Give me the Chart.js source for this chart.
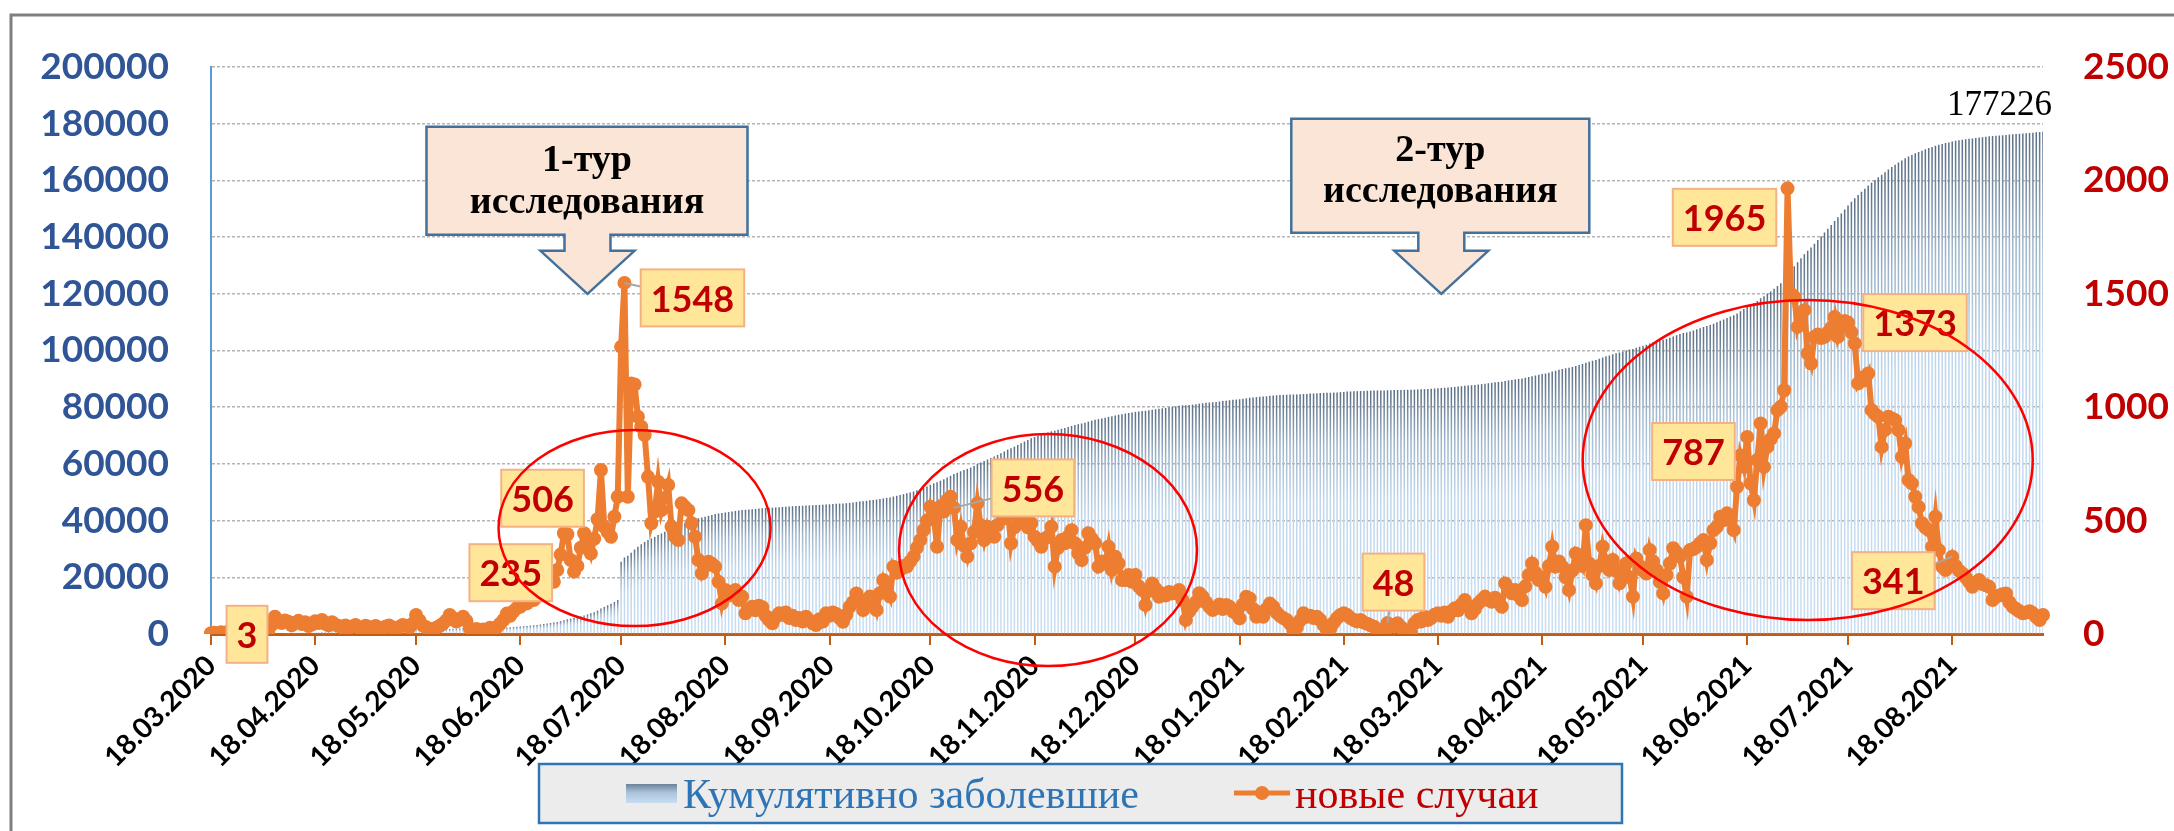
<!DOCTYPE html>
<html>
<head>
<meta charset="utf-8">
<script src="https://cdn.jsdelivr.net/npm/chart.js@4.4.1/dist/chart.umd.min.js"></script>
<style>
  html, body { margin: 0; padding: 0; background: #fff; }
  canvas { display: block; }
</style>
</head>
<body>
<canvas id="chart" width="2174" height="831" style="width:2174px;height:831px"></canvas>
<script>
// daily series, first day 18.03.2020
const firstDay = [2020, 2, 18];

const newCases = [
  3, 5, 2, 8, 4, 10, 6, 12, 7, 15,
  9, 5, 11, 14, 8, 17, 6, 10, 40, 76,
  55, 48, 60, 54, 38, 50, 58, 44, 52, 35,
  42, 56, 48, 62, 45, 38, 52, 41, 35, 30,
  38, 27, 33, 40, 29, 24, 36, 31, 28, 35,
  26, 22, 33, 38, 29, 25, 31, 40, 36, 28,
  45, 84, 60, 38, 30, 22, 12, 28, 35, 45,
  60, 84, 70, 55, 65, 76, 58, 25, 18, 22,
  12, 20, 15, 28, 22, 30, 45, 62, 90, 80,
  100, 115, 120, 150, 135, 160, 150, 165, 200, 235,
  215, 250, 230, 282, 350, 444, 440, 326, 275, 300,
  380, 444, 400, 355, 420, 506, 723, 473, 450, 429,
  517, 605, 1266, 1548, 605, 1105, 1100, 958, 914, 877,
  693, 488, 540, 671, 546, 600, 657, 473, 430, 414,
  576, 560, 546, 488, 429, 326, 267, 300, 319, 310,
  297, 230, 135, 194, 170, 180, 194, 150, 165, 91,
  110, 120, 105, 125, 118, 80, 62, 47, 75, 91,
  85, 95, 70, 80, 62, 70, 55, 76, 60, 47,
  40, 65, 55, 91, 80, 95, 88, 70, 54, 85,
  120, 140, 179, 150, 106, 140, 165, 150, 106, 180,
  238, 200, 165, 297, 270, 282, 300, 297, 320, 341,
  380, 414, 458, 500, 561, 517, 385, 561, 540, 590,
  605, 556, 414, 473, 390, 341, 400, 450, 576, 480,
  414, 473, 440, 429, 480, 532, 510, 546, 400, 470,
  517, 490, 502, 470, 488, 429, 410, 385, 420, 429,
  473, 297, 380, 414, 400, 430, 458, 400, 355, 326,
  380, 444, 420, 400, 297, 320, 311, 385, 282, 341,
  311, 238, 238, 260, 230, 260, 210, 194, 128, 190,
  223, 200, 164, 179, 170, 185, 179, 180, 194, 150,
  62, 100, 120, 140, 180, 165, 140, 120, 106, 115,
  130, 110, 128, 120, 100, 90, 69, 130, 164, 157,
  110, 76, 95, 76, 110, 134, 120, 95, 80, 70,
  62, 45, 18, 30, 60, 91, 76, 80, 70, 76,
  62, 40, 18, 25, 50, 70, 84, 91, 84, 70,
  62, 55, 62, 50, 45, 38, 32, 20, 4, 10,
  48, 40, 33, 47, 30, 18, 10, 4, 47, 62,
  55, 76, 62, 70, 85, 91, 80, 95, 76, 100,
  113, 105, 130, 150, 120, 91, 110, 135, 150, 165,
  150, 142, 160, 140, 120, 223, 200, 180, 194, 170,
  150, 210, 260, 311, 270, 238, 250, 208, 300, 385,
  297, 320, 297, 250, 194, 280, 355, 330, 300, 480,
  311, 260, 223, 300, 385, 320, 282, 326, 280, 223,
  260, 311, 250, 165, 333, 300, 280, 267, 370, 320,
  282, 230, 179, 260, 311, 378, 360, 341, 250, 165,
  370, 375, 385, 400, 414, 326, 400, 458, 473, 517,
  502, 532, 500, 458, 649, 787, 737, 869, 664, 590,
  767, 928, 737, 825, 860, 884, 987, 1002, 1075, 1965,
  1500, 1486, 1354, 1400, 1428, 1237, 1193, 1310, 1320, 1305,
  1310, 1330, 1350, 1398, 1310, 1354, 1380, 1373, 1330, 1281,
  1105, 1130, 1119, 1149, 987, 970, 958, 825, 900, 958,
  950, 943, 899, 781, 840, 679, 664, 605, 560, 488,
  470, 458, 385, 517, 370, 297, 282, 300, 341, 300,
  280, 267, 250, 230, 208, 225, 238, 220, 215, 208,
  150, 165, 170, 175, 179, 140, 120, 110, 100, 91,
  95, 100, 91, 75, 62, 84
];

const cumulative = [
  3, 6, 8, 13, 16, 24, 29, 38, 43, 54,
  61, 65, 73, 84, 90, 103, 108, 115, 145, 202,
  243, 279, 324, 365, 393, 431, 474, 507, 546, 572,
  604, 646, 682, 728, 762, 790, 829, 860, 886, 909,
  937, 957, 982, 1012, 1034, 1052, 1079, 1102, 1123, 1149,
  1169, 1185, 1210, 1238, 1260, 1279, 1302, 1332, 1359, 1380,
  1414, 1477, 1522, 1550, 1573, 1589, 1598, 1619, 1645, 1679,
  1724, 1787, 1840, 1881, 1930, 1987, 2030, 2049, 2062, 2079,
  2088, 2103, 2114, 2135, 2152, 2174, 2208, 2254, 2322, 2382,
  2457, 2543, 2633, 2746, 2847, 2967, 3080, 3204, 3354, 3530,
  3691, 3879, 4051, 4263, 4525, 4858, 5188, 5433, 5639, 5864,
  6149, 6520, 6900, 7280, 7700, 8250, 9000, 9550, 10100, 10650,
  11250, 12000, 25500, 27000, 27600, 28700, 29800, 30750, 31650, 32500,
  33200, 33700, 34250, 34900, 35450, 36050, 36700, 37150, 37600, 38000,
  38550, 39100, 39650, 40100, 40550, 40850, 41100, 41400, 41700, 42000,
  42300, 42500, 42650, 42850, 43000, 43200, 43400, 43550, 43700, 43800,
  43900, 44020, 44120, 44250, 44370, 44450, 44510, 44560, 44630, 44720,
  44800, 44900, 44970, 45050, 45110, 45180, 45240, 45310, 45370, 45420,
  45460, 45520, 45580, 45670, 45750, 45840, 45930, 46000, 46050, 46140,
  46260, 46400, 46580, 46730, 46840, 46980, 47140, 47290, 47400, 47580,
  47820, 48020, 48180, 48480, 48750, 49030, 49330, 49630, 49950, 50290,
  50670, 51090, 51550, 52050, 52610, 53130, 53510, 54070, 54610, 55200,
  55800, 56400, 56850, 57400, 57850, 58250, 58700, 59250, 59950, 60500,
  61000, 61550, 62080, 62600, 63170, 63800, 64400, 65050, 65530, 66090,
  66700, 67280, 67880, 68440, 69020, 69500, 69900, 70300, 70700, 71100,
  71500, 71750, 72050, 72400, 72700, 73050, 73400, 73700, 74000, 74250,
  74550, 74900, 75250, 75550, 75800, 76050, 76300, 76600, 76850, 77100,
  77350, 77550, 77750, 77950, 78150, 78350, 78500, 78650, 78750, 78900,
  79100, 79300, 79450, 79600, 79750, 79950, 80100, 80300, 80500, 80650,
  80700, 80800, 80900, 81050, 81250, 81400, 81550, 81650, 81750, 81850,
  82000, 82150, 82300, 82450, 82600, 82700, 82800, 82950, 83150, 83350,
  83450, 83550, 83650, 83750, 83850, 84000, 84100, 84200, 84300, 84350,
  84400, 84450, 84480, 84500, 84550, 84650, 84700, 84800, 84850, 84950,
  85000, 85050, 85070, 85100, 85150, 85200, 85300, 85400, 85500, 85550,
  85600, 85650, 85700, 85750, 85800, 85850, 85880, 85900, 85910, 85920,
  85970, 86000, 86040, 86080, 86110, 86130, 86140, 86150, 86200, 86250,
  86300, 86380, 86440, 86510, 86600, 86690, 86770, 86860, 86940, 87040,
  87150, 87260, 87390, 87540, 87660, 87750, 87860, 88000, 88150, 88310,
  88460, 88600, 88760, 88900, 89020, 89250, 89450, 89630, 89820, 89990,
  90140, 90350, 90610, 90920, 91190, 91430, 91680, 91890, 92190, 92570,
  92870, 93190, 93490, 93740, 93930, 94210, 94570, 94900, 95200, 95680,
  96070, 96400, 96670, 97050, 97530, 97930, 98280, 98690, 99040, 99320,
  99650, 100030, 100350, 100550, 100970, 101340, 101690, 102030, 102490, 102890,
  103240, 103530, 103750, 104080, 104470, 104940, 105390, 105810, 106130, 106330,
  106700, 107080, 107460, 107860, 108270, 108600, 109000, 109460, 109930, 110450,
  110950, 111480, 111980, 112440, 113090, 113880, 114610, 115480, 116140, 116730,
  117500, 118430, 119170, 119990, 120850, 121740, 122720, 123730, 124800, 126770,
  128270, 129750, 131110, 132510, 133940, 135170, 136370, 137680, 139000, 140300,
  141610, 142940, 144290, 145690, 147000, 148350, 149730, 151110, 152440, 153720,
  154830, 155960, 157080, 158230, 159210, 160180, 161140, 161970, 162870, 163830,
  164700, 165550, 166350, 167050, 167800, 168400, 169000, 169550, 170050, 170500,
  170950, 171400, 171750, 172200, 172550, 172850, 173150, 173400, 173700, 173950,
  174150, 174350, 174500, 174650, 174800, 174950, 175100, 175250, 175400, 175550,
  175650, 175750, 175850, 175950, 176050, 176150, 176250, 176350, 176450, 176550,
  176650, 176750, 176850, 176950, 177100, 177226
];

// days that carry a value box, and where the box sits relative to the point
const labelledDays = [0, 99, 115, 123, 221, 350, 455, 469, 487, 518];
const labelOffsets = [[36, 1], [-33, -8], [-55, -21], [68, 15], [79, -20], [6, -41], [-47, -4], [-63, 29], [67, 0], [-59, 24]];
const labelLeaders = [false, false, false, true, true, true, false, false, false, true];

// study rounds: arrow tip at a day and a value on the left axis
const rounds = [
  { day: 112, value: 120000, lines: ["1-тур", "исследования"], left: 161, right: 160, top: 167, bottom: 59, base: [123, 81] },
  { day: 366, value: 120000, lines: ["2-тур", "исследования"], left: 150, right: 148, top: 175, bottom: 61, base: [133, 92] }
];

// red rings: centre day, centre value on the right axis, radii
const rings = [[126, 467, 136, 98], [249, 370, 149, 116], [475, 767, 225, 160]];

const leftMax = 200000, leftStep = 20000;
const rightMax = 2500, rightStep = 500;

const dates = newCases.map((_, i) => {
  const d = new Date(Date.UTC(firstDay[0], firstDay[1], firstDay[2] + i));
  const p = n => String(n).padStart(2, "0");
  return p(d.getUTCDate()) + "." + p(d.getUTCMonth() + 1) + "." + d.getUTCFullYear();
});

function barFill(c) {
  const chart = c.chart;
  if (c.type !== "data" || !chart.chartArea) return "#c5dbf0";
  const ys = chart.scales.y;
  const top = ys.getPixelForValue(c.raw);
  const base = ys.getPixelForValue(0);
  if (base - top < 2) return "#c5dbf0";
  const g = chart.ctx.createLinearGradient(0, top, 0, base);
  g.addColorStop(0, "#5a6e85");
  g.addColorStop(0.22, "#9eb5cb");
  g.addColorStop(0.45, "#bfd6ec");
  g.addColorStop(1, "#c9def2");
  return g;
}

const extras = {
  id: "extras",
  afterDraw(chart) {
    const c = chart.ctx;
    const xs = chart.scales.x, yl = chart.scales.y, yr = chart.scales.y2;
    c.save();

    // value boxes
    c.font = "bold 36px Lato";
    labelledDays.forEach((d, k) => {
      const px = xs.getPixelForValue(d), py = yr.getPixelForValue(newCases[d]);
      const cx = px + labelOffsets[k][0], cy = py + labelOffsets[k][1];
      const text = String(newCases[d]);
      const w = c.measureText(text).width + 20, h = 57;
      if (labelLeaders[k]) {
        c.strokeStyle = "#a6a6a6";
        c.lineWidth = 2;
        c.beginPath();
        c.moveTo(px, py);
        c.lineTo(cx, cy);
        c.stroke();
      }
      c.fillStyle = "#ffe699";
      c.fillRect(cx - w / 2, cy - h / 2, w, h);
      c.strokeStyle = "#f4b183";
      c.lineWidth = 2;
      c.strokeRect(cx - w / 2, cy - h / 2, w, h);
      c.fillStyle = "#c00000";
      c.textAlign = "center";
      c.textBaseline = "middle";
      c.fillText(text, cx, cy + 2);
    });

    // arrow callouts
    rounds.forEach(r => {
      const tx = xs.getPixelForValue(r.day), ty = yl.getPixelForValue(r.value);
      c.beginPath();
      c.moveTo(tx - r.left, ty - r.top);
      c.lineTo(tx + r.right, ty - r.top);
      c.lineTo(tx + r.right, ty - r.bottom);
      c.lineTo(tx + 23, ty - r.bottom);
      c.lineTo(tx + 23, ty - 43);
      c.lineTo(tx + 47, ty - 43);
      c.lineTo(tx, ty);
      c.lineTo(tx - 47, ty - 43);
      c.lineTo(tx - 23, ty - 43);
      c.lineTo(tx - 23, ty - r.bottom);
      c.lineTo(tx - r.left, ty - r.bottom);
      c.closePath();
      c.fillStyle = "#fbe5d6";
      c.fill();
      c.strokeStyle = "#41719c";
      c.lineWidth = 2.5;
      c.stroke();
      c.fillStyle = "#000";
      c.font = "bold 38px 'Liberation Serif'";
      c.textAlign = "center";
      c.textBaseline = "alphabetic";
      const mid = tx + (r.right - r.left) / 2;
      c.fillText(r.lines[0], mid, ty - r.base[0]);
      c.fillText(r.lines[1], mid, ty - r.base[1]);
    });

    // total on the last bar
    const last = cumulative.length - 1;
    c.fillStyle = "#000";
    c.font = "35px 'Liberation Serif'";
    c.textAlign = "right";
    c.textBaseline = "alphabetic";
    c.fillText(String(cumulative[last]), xs.getPixelForValue(last) + 9, yl.getPixelForValue(cumulative[last]) - 17);

    // rings
    c.strokeStyle = "#ff0000";
    c.lineWidth = 2.5;
    rings.forEach(([d, v, rx, ry]) => {
      c.beginPath();
      c.ellipse(xs.getPixelForValue(d), yr.getPixelForValue(v), rx, ry, 0, 0, Math.PI * 2);
      c.stroke();
    });

    // legend
    const lx = 539, ly = 764, lw = 1083, lh = 59;
    c.fillStyle = "#ececec";
    c.fillRect(lx, ly, lw, lh);
    c.strokeStyle = "#2e75b6";
    c.lineWidth = 2.5;
    c.strokeRect(lx, ly, lw, lh);
    const sg = c.createLinearGradient(0, 784, 0, 803);
    sg.addColorStop(0, "#6d8198");
    sg.addColorStop(0.45, "#a9c3dc");
    sg.addColorStop(1, "#c8ddf1");
    c.fillStyle = sg;
    c.fillRect(626, 784, 51, 19);
    c.font = "42px 'Liberation Serif'";
    c.textAlign = "left";
    c.fillStyle = "#2e75b6";
    c.fillText(chart.data.datasets[1].label, 683, 808);
    c.strokeStyle = "#ed7d31";
    c.lineWidth = 5;
    c.beginPath();
    c.moveTo(1234, 793);
    c.lineTo(1290, 793);
    c.stroke();
    c.fillStyle = "#ed7d31";
    c.beginPath();
    c.arc(1262, 793, 7, 0, Math.PI * 2);
    c.fill();
    c.fillStyle = "#c00000";
    c.fillText(chart.data.datasets[0].label, 1295, 808);

    // outer frame
    c.strokeStyle = "#7f7f7f";
    c.lineWidth = 3;
    c.beginPath();
    c.moveTo(11, 900);
    c.lineTo(11, 15);
    c.lineTo(2300, 15);
    c.stroke();

    c.restore();
  }
};

new Chart(document.getElementById("chart").getContext("2d"), {
  data: {
    labels: dates,
    datasets: [
      {
        type: "line",
        label: "новые случаи",
        data: newCases,
        yAxisID: "y2",
        borderColor: "#ed7d31",
        backgroundColor: "#ed7d31",
        borderWidth: 6,
        pointRadius: 7,
        pointHoverRadius: 7,
        pointBorderWidth: 0,
        tension: 0,
        order: 0
      },
      {
        type: "bar",
        label: "Кумулятивно заболевшие",
        data: cumulative,
        yAxisID: "y",
        backgroundColor: barFill,
        barPercentage: 0.45,
        categoryPercentage: 1,
        order: 1
      }
    ]
  },
  options: {
    responsive: false,
    animation: false,
    devicePixelRatio: 1,
    layout: { padding: { top: 67, left: 0, right: 0, bottom: 0 } },
    plugins: { legend: { display: false }, tooltip: { enabled: false } },
    scales: {
      x: {
        type: "category",
        offset: false,
        grid: { offset: false, drawOnChartArea: false, drawTicks: true, tickLength: 11, tickColor: "#c55a11", lineWidth: 2 },
        border: { color: "#c55a11", width: 3 },
        ticks: {
          autoSkip: false,
          minRotation: 45,
          maxRotation: 45,
          padding: 4,
          color: "#000",
          font: { family: "Lato", weight: "bold", size: 28 }
        },
        afterBuildTicks: s => { s.ticks = s.ticks.filter(t => dates[t.value].startsWith("18.")); },
        afterFit: s => { s.height = 197; }
      },
      y: {
        position: "left",
        min: 0,
        max: leftMax,
        ticks: {
          stepSize: leftStep,
          padding: 42,
          color: "#2f5597",
          font: { family: "Lato", weight: "bold", size: 37 },
          callback: v => String(v)
        },
        grid: { color: "#b4b4b4", lineWidth: 1.5, drawTicks: false },
        border: { color: "#5b9bd5", width: 2, dash: [3, 2] },
        afterFit: s => { s.width = 211; }
      },
      y2: {
        position: "right",
        min: 0,
        max: rightMax,
        ticks: {
          stepSize: rightStep,
          padding: 40,
          color: "#c00000",
          font: { family: "Lato", weight: "bold", size: 37 },
          callback: v => String(v)
        },
        grid: { drawOnChartArea: false, drawTicks: false },
        border: { display: false },
        afterFit: s => { s.width = 131; }
      }
    }
  },
  plugins: [extras]
});
</script>
</body>
</html>
